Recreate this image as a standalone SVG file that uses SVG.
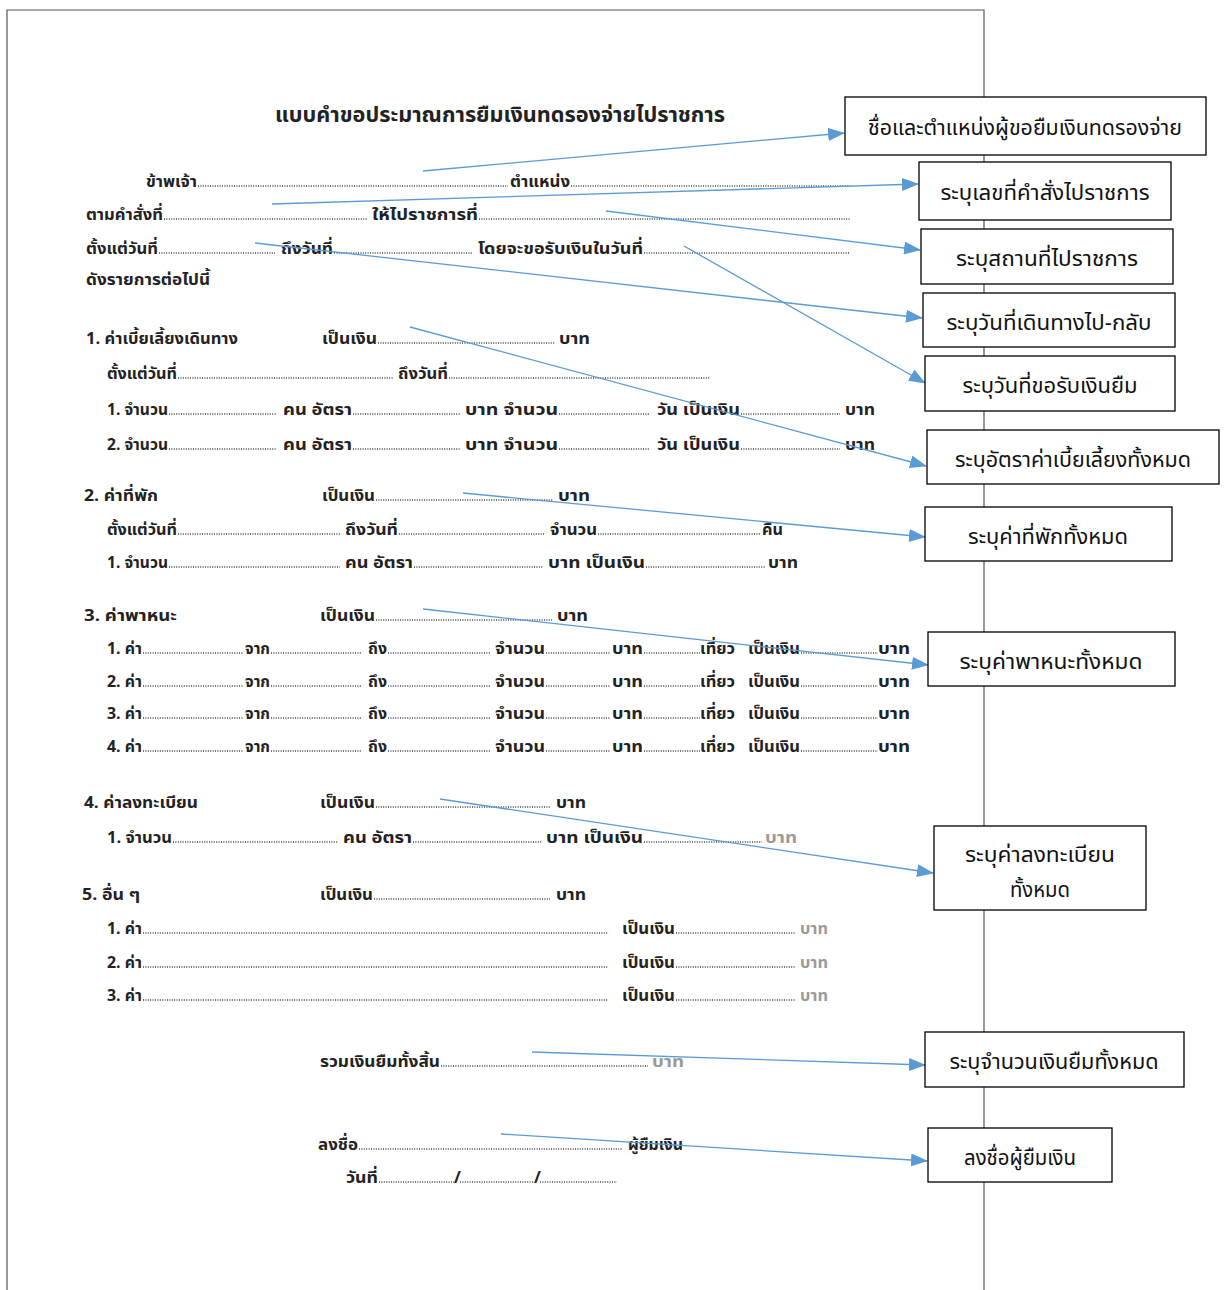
<svg xmlns="http://www.w3.org/2000/svg" width="1227" height="1290" viewBox="0 0 1227 1290">
<defs>
<style>
.f{font-family:"Noto Sans Thai","Noto Sans","DejaVu Sans",sans-serif;font-weight:bold;font-size:16.5px;fill:#222}
.fa{fill:#9a9a9a}
.t{font-family:"Noto Sans Thai","Noto Sans","DejaVu Sans",sans-serif;font-weight:bold;font-size:21px;fill:#222}
.d{stroke:#444;stroke-width:1.3;stroke-dasharray:1 1.4;fill:none}
.box{fill:#fff;stroke:#000;stroke-width:1.3}
.lab{font-family:"Noto Sans Thai","Noto Sans","DejaVu Sans",sans-serif;font-size:21px;fill:#111;text-anchor:middle}
.c{stroke:#5B9BD5;stroke-width:1.3;fill:none;marker-end:url(#ah)}
</style>
<marker id="ah" markerUnits="userSpaceOnUse" markerWidth="17" markerHeight="13" refX="16" refY="6.5" orient="auto">
<path d="M0,0 L17,6.5 L0,13 z" fill="#5B9BD5"/>
</marker>
</defs>
<rect width="1227" height="1290" fill="#fff"/>
<g id="page">
<path d="M7,1290 V10 H984 V1290" fill="none" stroke="#555" stroke-width="1.2"/>
</g>
<g id="form">
<text class="t" x="275" y="122" textLength="450" lengthAdjust="spacingAndGlyphs">แบบคำขอประมาณการยืมเงินทดรองจ่ายไปราชการ</text>
<text class="f" x="146" y="187" textLength="51" lengthAdjust="spacingAndGlyphs">ข้าพเจ้า</text>
<line class="d" x1="198" y1="186" x2="508" y2="186"/>
<text class="f" x="510" y="187" textLength="60" lengthAdjust="spacingAndGlyphs">ตำแหน่ง</text>
<line class="d" x1="571" y1="186" x2="850" y2="186"/>
<text class="f" x="86" y="220" textLength="77" lengthAdjust="spacingAndGlyphs">ตามคำสั่งที่</text>
<line class="d" x1="164" y1="219" x2="367" y2="219"/>
<text class="f" x="372" y="220" textLength="106" lengthAdjust="spacingAndGlyphs">ให้ไปราชการที่</text>
<line class="d" x1="479" y1="219" x2="850" y2="219"/>
<text class="f" x="86" y="254" textLength="72" lengthAdjust="spacingAndGlyphs">ตั้งแต่วันที่</text>
<line class="d" x1="159" y1="253" x2="275" y2="253"/>
<text class="f" x="281" y="254" textLength="52" lengthAdjust="spacingAndGlyphs">ถึงวันที่</text>
<line class="d" x1="334" y1="253" x2="472" y2="253"/>
<text class="f" x="478" y="254" textLength="165" lengthAdjust="spacingAndGlyphs">โดยจะขอรับเงินในวันที่</text>
<line class="d" x1="644" y1="253" x2="850" y2="253"/>
<text class="f" x="86" y="285" textLength="124" lengthAdjust="spacingAndGlyphs">ดังรายการต่อไปนี้</text>
<text class="f" x="86" y="344" textLength="152" lengthAdjust="spacingAndGlyphs">1. ค่าเบี้ยเลี้ยงเดินทาง</text>
<text class="f" x="322" y="344" textLength="55" lengthAdjust="spacingAndGlyphs">เป็นเงิน</text>
<line class="d" x1="378" y1="343" x2="555" y2="343"/>
<text class="f" x="559" y="344" textLength="31" lengthAdjust="spacingAndGlyphs">บาท</text>
<text class="f" x="107" y="379" textLength="70" lengthAdjust="spacingAndGlyphs">ตั้งแต่วันที่</text>
<line class="d" x1="178" y1="378" x2="393" y2="378"/>
<text class="f" x="398" y="379" textLength="50" lengthAdjust="spacingAndGlyphs">ถึงวันที่</text>
<line class="d" x1="449" y1="378" x2="710" y2="378"/>
<text class="f" x="107" y="415" textLength="61" lengthAdjust="spacingAndGlyphs">1. จำนวน</text>
<line class="d" x1="169" y1="414" x2="277" y2="414"/>
<text class="f" x="283" y="415" textLength="69" lengthAdjust="spacingAndGlyphs">คน อัตรา</text>
<line class="d" x1="353" y1="414" x2="460" y2="414"/>
<text class="f" x="465" y="415" textLength="93" lengthAdjust="spacingAndGlyphs">บาท จำนวน</text>
<line class="d" x1="559" y1="414" x2="650" y2="414"/>
<text class="f" x="657" y="415" textLength="83" lengthAdjust="spacingAndGlyphs">วัน เป็นเงิน</text>
<line class="d" x1="741" y1="414" x2="840" y2="414"/>
<text class="f" x="845" y="415" textLength="30" lengthAdjust="spacingAndGlyphs">บาท</text>
<text class="f" x="107" y="450" textLength="61" lengthAdjust="spacingAndGlyphs">2. จำนวน</text>
<line class="d" x1="169" y1="449" x2="277" y2="449"/>
<text class="f" x="283" y="450" textLength="69" lengthAdjust="spacingAndGlyphs">คน อัตรา</text>
<line class="d" x1="353" y1="449" x2="460" y2="449"/>
<text class="f" x="465" y="450" textLength="93" lengthAdjust="spacingAndGlyphs">บาท จำนวน</text>
<line class="d" x1="559" y1="449" x2="650" y2="449"/>
<text class="f" x="657" y="450" textLength="83" lengthAdjust="spacingAndGlyphs">วัน เป็นเงิน</text>
<line class="d" x1="741" y1="449" x2="840" y2="449"/>
<text class="f" x="845" y="450" textLength="30" lengthAdjust="spacingAndGlyphs">บาท</text>
<text class="f" x="84" y="501" textLength="74" lengthAdjust="spacingAndGlyphs">2. ค่าที่พัก</text>
<text class="f" x="322" y="501" textLength="53" lengthAdjust="spacingAndGlyphs">เป็นเงิน</text>
<line class="d" x1="376" y1="500" x2="553" y2="500"/>
<text class="f" x="558" y="501" textLength="32" lengthAdjust="spacingAndGlyphs">บาท</text>
<text class="f" x="107" y="535" textLength="70" lengthAdjust="spacingAndGlyphs">ตั้งแต่วันที่</text>
<line class="d" x1="178" y1="534" x2="340" y2="534"/>
<text class="f" x="345" y="535" textLength="53" lengthAdjust="spacingAndGlyphs">ถึงวันที่</text>
<line class="d" x1="399" y1="534" x2="545" y2="534"/>
<text class="f" x="550" y="535" textLength="47" lengthAdjust="spacingAndGlyphs">จำนวน</text>
<line class="d" x1="598" y1="534" x2="760" y2="534"/>
<text class="f" x="762" y="535" textLength="21" lengthAdjust="spacingAndGlyphs">คืน</text>
<text class="f" x="107" y="568" textLength="61" lengthAdjust="spacingAndGlyphs">1. จำนวน</text>
<line class="d" x1="169" y1="567" x2="340" y2="567"/>
<text class="f" x="345" y="568" textLength="68" lengthAdjust="spacingAndGlyphs">คน อัตรา</text>
<line class="d" x1="414" y1="567" x2="543" y2="567"/>
<text class="f" x="548" y="568" textLength="97" lengthAdjust="spacingAndGlyphs">บาท เป็นเงิน</text>
<line class="d" x1="646" y1="567" x2="765" y2="567"/>
<text class="f" x="768" y="568" textLength="30" lengthAdjust="spacingAndGlyphs">บาท</text>
<text class="f" x="84" y="621" textLength="93" lengthAdjust="spacingAndGlyphs">3. ค่าพาหนะ</text>
<text class="f" x="320" y="621" textLength="55" lengthAdjust="spacingAndGlyphs">เป็นเงิน</text>
<line class="d" x1="376" y1="620" x2="552" y2="620"/>
<text class="f" x="557" y="621" textLength="31" lengthAdjust="spacingAndGlyphs">บาท</text>
<g id="r31">
<text class="f" x="107" y="654" textLength="35" lengthAdjust="spacingAndGlyphs">1. ค่า</text>
<line class="d" x1="143" y1="653" x2="243" y2="653"/>
<text class="f" x="245" y="654" textLength="25" lengthAdjust="spacingAndGlyphs">จาก</text>
<line class="d" x1="271" y1="653" x2="362" y2="653"/>
<text class="f" x="368" y="654" textLength="19" lengthAdjust="spacingAndGlyphs">ถึง</text>
<line class="d" x1="388" y1="653" x2="490" y2="653"/>
<text class="f" x="495" y="654" textLength="50" lengthAdjust="spacingAndGlyphs">จำนวน</text>
<line class="d" x1="546" y1="653" x2="610" y2="653"/>
<text class="f" x="612" y="654" textLength="31" lengthAdjust="spacingAndGlyphs">บาท</text>
<line class="d" x1="644" y1="653" x2="700" y2="653"/>
<text class="f" x="700" y="654" textLength="35" lengthAdjust="spacingAndGlyphs">เที่ยว</text>
<text class="f" x="748" y="654" textLength="52" lengthAdjust="spacingAndGlyphs">เป็นเงิน</text>
<line class="d" x1="801" y1="653" x2="878" y2="653"/>
<text class="f" x="878" y="654" textLength="32" lengthAdjust="spacingAndGlyphs">บาท</text>
</g>
<g id="r32">
<text class="f" x="107" y="687" textLength="35" lengthAdjust="spacingAndGlyphs">2. ค่า</text>
<line class="d" x1="143" y1="686" x2="243" y2="686"/>
<text class="f" x="245" y="687" textLength="25" lengthAdjust="spacingAndGlyphs">จาก</text>
<line class="d" x1="271" y1="686" x2="362" y2="686"/>
<text class="f" x="368" y="687" textLength="19" lengthAdjust="spacingAndGlyphs">ถึง</text>
<line class="d" x1="388" y1="686" x2="490" y2="686"/>
<text class="f" x="495" y="687" textLength="50" lengthAdjust="spacingAndGlyphs">จำนวน</text>
<line class="d" x1="546" y1="686" x2="610" y2="686"/>
<text class="f" x="612" y="687" textLength="31" lengthAdjust="spacingAndGlyphs">บาท</text>
<line class="d" x1="644" y1="686" x2="700" y2="686"/>
<text class="f" x="700" y="687" textLength="35" lengthAdjust="spacingAndGlyphs">เที่ยว</text>
<text class="f" x="748" y="687" textLength="52" lengthAdjust="spacingAndGlyphs">เป็นเงิน</text>
<line class="d" x1="801" y1="686" x2="878" y2="686"/>
<text class="f" x="878" y="687" textLength="32" lengthAdjust="spacingAndGlyphs">บาท</text>
</g>
<g id="r33">
<text class="f" x="107" y="719" textLength="35" lengthAdjust="spacingAndGlyphs">3. ค่า</text>
<line class="d" x1="143" y1="718" x2="243" y2="718"/>
<text class="f" x="245" y="719" textLength="25" lengthAdjust="spacingAndGlyphs">จาก</text>
<line class="d" x1="271" y1="718" x2="362" y2="718"/>
<text class="f" x="368" y="719" textLength="19" lengthAdjust="spacingAndGlyphs">ถึง</text>
<line class="d" x1="388" y1="718" x2="490" y2="718"/>
<text class="f" x="495" y="719" textLength="50" lengthAdjust="spacingAndGlyphs">จำนวน</text>
<line class="d" x1="546" y1="718" x2="610" y2="718"/>
<text class="f" x="612" y="719" textLength="31" lengthAdjust="spacingAndGlyphs">บาท</text>
<line class="d" x1="644" y1="718" x2="700" y2="718"/>
<text class="f" x="700" y="719" textLength="35" lengthAdjust="spacingAndGlyphs">เที่ยว</text>
<text class="f" x="748" y="719" textLength="52" lengthAdjust="spacingAndGlyphs">เป็นเงิน</text>
<line class="d" x1="801" y1="718" x2="878" y2="718"/>
<text class="f" x="878" y="719" textLength="32" lengthAdjust="spacingAndGlyphs">บาท</text>
</g>
<g id="r34">
<text class="f" x="107" y="752" textLength="35" lengthAdjust="spacingAndGlyphs">4. ค่า</text>
<line class="d" x1="143" y1="751" x2="243" y2="751"/>
<text class="f" x="245" y="752" textLength="25" lengthAdjust="spacingAndGlyphs">จาก</text>
<line class="d" x1="271" y1="751" x2="362" y2="751"/>
<text class="f" x="368" y="752" textLength="19" lengthAdjust="spacingAndGlyphs">ถึง</text>
<line class="d" x1="388" y1="751" x2="490" y2="751"/>
<text class="f" x="495" y="752" textLength="50" lengthAdjust="spacingAndGlyphs">จำนวน</text>
<line class="d" x1="546" y1="751" x2="610" y2="751"/>
<text class="f" x="612" y="752" textLength="31" lengthAdjust="spacingAndGlyphs">บาท</text>
<line class="d" x1="644" y1="751" x2="700" y2="751"/>
<text class="f" x="700" y="752" textLength="35" lengthAdjust="spacingAndGlyphs">เที่ยว</text>
<text class="f" x="748" y="752" textLength="52" lengthAdjust="spacingAndGlyphs">เป็นเงิน</text>
<line class="d" x1="801" y1="751" x2="878" y2="751"/>
<text class="f" x="878" y="752" textLength="32" lengthAdjust="spacingAndGlyphs">บาท</text>
</g>
<text class="f" x="84" y="808" textLength="114" lengthAdjust="spacingAndGlyphs">4. ค่าลงทะเบียน</text>
<text class="f" x="320" y="808" textLength="55" lengthAdjust="spacingAndGlyphs">เป็นเงิน</text>
<line class="d" x1="376" y1="807" x2="550" y2="807"/>
<text class="f" x="556" y="808" textLength="30" lengthAdjust="spacingAndGlyphs">บาท</text>
<text class="f" x="107" y="843" textLength="65" lengthAdjust="spacingAndGlyphs">1. จำนวน</text>
<line class="d" x1="173" y1="842" x2="338" y2="842"/>
<text class="f" x="343" y="843" textLength="69" lengthAdjust="spacingAndGlyphs">คน อัตรา</text>
<line class="d" x1="413" y1="842" x2="542" y2="842"/>
<text class="f" x="546" y="843" textLength="97" lengthAdjust="spacingAndGlyphs">บาท เป็นเงิน</text>
<line class="d" x1="644" y1="842" x2="762" y2="842"/>
<text class="f fa" x="765" y="843" textLength="32" lengthAdjust="spacingAndGlyphs">บาท</text>
<text class="f" x="82" y="900" textLength="58" lengthAdjust="spacingAndGlyphs">5. อื่น ๆ</text>
<text class="f" x="320" y="900" textLength="53" lengthAdjust="spacingAndGlyphs">เป็นเงิน</text>
<line class="d" x1="374" y1="899" x2="550" y2="899"/>
<text class="f" x="556" y="900" textLength="30" lengthAdjust="spacingAndGlyphs">บาท</text>
<text class="f" x="107" y="934" textLength="35" lengthAdjust="spacingAndGlyphs">1. ค่า</text>
<line class="d" x1="143" y1="933" x2="608" y2="933"/>
<text class="f" x="622" y="934" textLength="53" lengthAdjust="spacingAndGlyphs">เป็นเงิน</text>
<line class="d" x1="676" y1="933" x2="795" y2="933"/>
<text class="f fa" x="800" y="934" textLength="28" lengthAdjust="spacingAndGlyphs">บาท</text>
<text class="f" x="107" y="968" textLength="35" lengthAdjust="spacingAndGlyphs">2. ค่า</text>
<line class="d" x1="143" y1="967" x2="608" y2="967"/>
<text class="f" x="622" y="968" textLength="53" lengthAdjust="spacingAndGlyphs">เป็นเงิน</text>
<line class="d" x1="676" y1="967" x2="795" y2="967"/>
<text class="f fa" x="800" y="968" textLength="28" lengthAdjust="spacingAndGlyphs">บาท</text>
<text class="f" x="107" y="1001" textLength="35" lengthAdjust="spacingAndGlyphs">3. ค่า</text>
<line class="d" x1="143" y1="1000" x2="608" y2="1000"/>
<text class="f" x="622" y="1001" textLength="53" lengthAdjust="spacingAndGlyphs">เป็นเงิน</text>
<line class="d" x1="676" y1="1000" x2="795" y2="1000"/>
<text class="f fa" x="800" y="1001" textLength="28" lengthAdjust="spacingAndGlyphs">บาท</text>
<text class="f" x="320" y="1067" textLength="120" lengthAdjust="spacingAndGlyphs">รวมเงินยืมทั้งสิ้น</text>
<line class="d" x1="441" y1="1066" x2="648" y2="1066"/>
<text class="f fa" x="652" y="1067" textLength="32" lengthAdjust="spacingAndGlyphs">บาท</text>
<text class="f" x="318" y="1150" textLength="40" lengthAdjust="spacingAndGlyphs">ลงชื่อ</text>
<line class="d" x1="359" y1="1149" x2="623" y2="1149"/>
<text class="f" x="628" y="1150" textLength="55" lengthAdjust="spacingAndGlyphs">ผู้ยืมเงิน</text>
<text class="f" x="346" y="1183" textLength="32" lengthAdjust="spacingAndGlyphs">วันที่</text>
<line class="d" x1="379" y1="1182" x2="454" y2="1182"/>
<text class="f" x="454" y="1183">/</text>
<line class="d" x1="460" y1="1182" x2="534" y2="1182"/>
<text class="f" x="534" y="1183">/</text>
<line class="d" x1="540" y1="1182" x2="617" y2="1182"/>
</g>
<g id="connectors">
<line class="c" x1="423" y1="171" x2="844" y2="133"/>
<line class="c" x1="272" y1="204" x2="918" y2="184"/>
<line class="c" x1="606" y1="211" x2="920" y2="250"/>
<line class="c" x1="255" y1="243" x2="922" y2="318"/>
<line class="c" x1="684" y1="246" x2="925" y2="383"/>
<line class="c" x1="410" y1="327" x2="926" y2="466"/>
<line class="c" x1="463" y1="493" x2="925" y2="537"/>
<line class="c" x1="423" y1="609" x2="928" y2="665"/>
<line class="c" x1="440" y1="799" x2="933" y2="873"/>
<line class="c" x1="532" y1="1052" x2="925" y2="1065"/>
<line class="c" x1="501" y1="1134" x2="927" y2="1161"/>
</g>
<g id="n1"><rect class="box" x="845" y="97" width="361" height="58"/><text class="lab" x="1025" y="135" textLength="314" lengthAdjust="spacingAndGlyphs">ชื่อและตำแหน่งผู้ขอยืมเงินทดรองจ่าย</text></g>
<g id="n2"><rect class="box" x="919" y="162" width="252" height="58"/><text class="lab" x="1045" y="200" textLength="209" lengthAdjust="spacingAndGlyphs">ระบุเลขที่คำสั่งไปราชการ</text></g>
<g id="n3"><rect class="box" x="921" y="229" width="252" height="55"/><text class="lab" x="1047" y="266" textLength="182" lengthAdjust="spacingAndGlyphs">ระบุสถานที่ไปราชการ</text></g>
<g id="n4"><rect class="box" x="923" y="293" width="252" height="54"/><text class="lab" x="1049" y="330" textLength="205" lengthAdjust="spacingAndGlyphs">ระบุวันที่เดินทางไป-กลับ</text></g>
<g id="n5"><rect class="box" x="925" y="356" width="250" height="55"/><text class="lab" x="1050" y="393" textLength="175" lengthAdjust="spacingAndGlyphs">ระบุวันที่ขอรับเงินยืม</text></g>
<g id="n6"><rect class="box" x="927" y="430" width="292" height="54"/><text class="lab" x="1073" y="467" textLength="236" lengthAdjust="spacingAndGlyphs">ระบุอัตราค่าเบี้ยเลี้ยงทั้งหมด</text></g>
<g id="n7"><rect class="box" x="925" y="507" width="247" height="54"/><text class="lab" x="1048" y="544" textLength="160" lengthAdjust="spacingAndGlyphs">ระบุค่าที่พักทั้งหมด</text></g>
<g id="n8"><rect class="box" x="928" y="632" width="247" height="54"/><text class="lab" x="1051" y="669" textLength="183" lengthAdjust="spacingAndGlyphs">ระบุค่าพาหนะทั้งหมด</text></g>
<g id="n9"><rect class="box" x="934" y="826" width="212" height="84"/><text class="lab" x="1040" y="862" textLength="150" lengthAdjust="spacingAndGlyphs">ระบุค่าลงทะเบียน</text><text class="lab" x="1040" y="897" textLength="60" lengthAdjust="spacingAndGlyphs">ทั้งหมด</text></g>
<g id="n10"><rect class="box" x="925" y="1032" width="259" height="55"/><text class="lab" x="1054" y="1069" textLength="209" lengthAdjust="spacingAndGlyphs">ระบุจำนวนเงินยืมทั้งหมด</text></g>
<g id="n11"><rect class="box" x="928" y="1128" width="184" height="54"/><text class="lab" x="1020" y="1165" textLength="112" lengthAdjust="spacingAndGlyphs">ลงชื่อผู้ยืมเงิน</text></g>
</svg>
